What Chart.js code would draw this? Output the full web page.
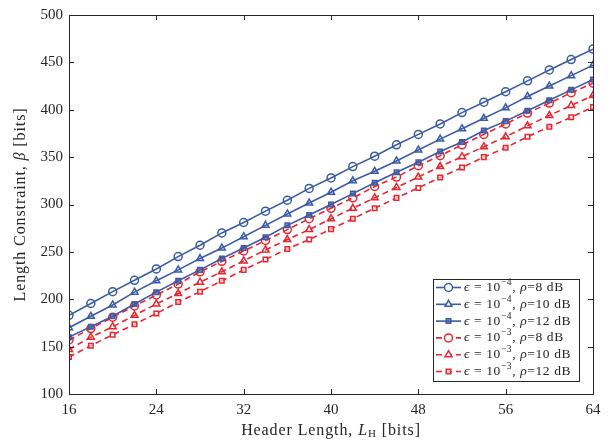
<!DOCTYPE html>
<html>
<head>
<meta charset="utf-8">
<script src="https://cdn.jsdelivr.net/npm/chart.js@4"></script>
<style>
  body { margin: 0; background: #fff; }
  canvas { display: block; }
</style>
</head>
<body>
<canvas id="chart" width="616" height="445"></canvas>
<script>
// header length (bits)
var headerLen = [16, 18, 20, 22, 24, 26, 28, 30, 32, 34, 36, 38, 40, 42, 44, 46, 48, 50, 52, 54, 56, 58, 60, 62, 64];
var xTicks = [16, 24, 32, 40, 48, 56, 64];
var yTicks = [100, 150, 200, 250, 300, 350, 400, 450, 500];

// length constraint (bits)
var e4rho8  = [183, 195.5, 208, 220, 232, 245, 257, 270, 281, 293, 304.5, 317, 328, 340, 351, 363, 374, 385, 397, 408, 419, 430.5, 442, 453, 464];
var e4rho10 = [170, 182, 194, 207.5, 219.5, 231, 243, 254, 266, 278, 290, 301.5, 313, 325, 335, 346, 357.5, 369, 380, 391, 402, 414, 425, 436, 447];
var e4rho12 = [160, 171, 182, 195, 207.5, 219.5, 231, 243, 254, 265.5, 278, 289, 300, 311.5, 323, 334, 344.5, 356, 366, 378, 388, 399, 410, 421, 432];
var e3rho8  = [157, 169, 181, 193, 204.5, 216, 229, 240, 251, 262, 273.5, 285, 296, 307, 319, 329, 341, 351.5, 363, 374, 385, 396.5, 407, 418, 428];
var e3rho10 = [147, 160, 171, 183, 195, 206, 218, 229, 240.5, 252, 263, 273.5, 285, 296, 307, 318, 329, 340, 350.5, 361, 371.5, 383, 394, 404.5, 415];
var e3rho12 = [139, 151, 162.5, 173.5, 185, 197, 208, 219.5, 231, 242, 253, 263, 274, 285, 296, 307, 317.5, 328.5, 339, 350, 360, 371.5, 382, 392, 403];

var BLUE = '#3b5ba6';
var RED = '#e9252f';
var SERIF = '"Liberation Serif", "DejaVu Serif", serif';
var INK = '#262626';

function pts(arr) {
  return headerLen.map(function (v, i) { return { x: v, y: arr[i] }; });
}

function makeSet(arr, color, style, dashed, eps, rho) {
  return {
    data: pts(arr),
    eps: eps,
    rho: rho,
    borderColor: color,
    backgroundColor: style === 'rect' ? (dashed ? 'rgba(255,255,255,0.6)' : 'rgba(59,91,166,0.55)') : 'rgba(255,255,255,0)',
    borderWidth: 1.6,
    borderDash: dashed ? [6, 4] : [],
    pointStyle: style,
    pointRadius: style === 'rect' ? 3.2 : 4,
    pointBorderWidth: 1.5,
    pointBorderColor: color,
    tension: 0
  };
}

var datasets = [
  makeSet(e4rho8, BLUE, 'circle', false, '\u22124', '8'),
  makeSet(e4rho10, BLUE, 'triangle', false, '\u22124', '10'),
  makeSet(e4rho12, BLUE, 'rect', false, '\u22124', '12'),
  makeSet(e3rho8, RED, 'circle', true, '\u22123', '8'),
  makeSet(e3rho10, RED, 'triangle', true, '\u22123', '10'),
  makeSet(e3rho12, RED, 'rect', true, '\u22123', '12')
];

// draws pieces of text one after another, each with its own font and shift
function drawRuns(ctx, runs, x, y) {
  runs.forEach(function (r) {
    ctx.font = r.font;
    ctx.fillText(r.text, x, y + (r.dy || 0));
    x += ctx.measureText(r.text).width;
  });
}
function runsWidth(ctx, runs) {
  var w = 0;
  runs.forEach(function (r) { ctx.font = r.font; w += ctx.measureText(r.text).width; });
  return w;
}

var framePlugin = {
  id: 'frame',
  afterDraw: function (chart) {
    var ctx = chart.ctx;
    var a = chart.chartArea;
    var xs = chart.scales.x, ys = chart.scales.y;
    ctx.save();
    ctx.strokeStyle = INK;
    ctx.lineWidth = 1;
    ctx.setLineDash([]);
    ctx.strokeRect(Math.round(a.left) + 0.5, Math.round(a.top) + 0.5, Math.round(a.width), Math.round(a.height));

    // inward ticks on all four sides
    ctx.beginPath();
    xTicks.forEach(function (v) {
      var px = Math.round(xs.getPixelForValue(v)) + 0.5;
      ctx.moveTo(px, a.bottom); ctx.lineTo(px, a.bottom - 5);
      ctx.moveTo(px, a.top); ctx.lineTo(px, a.top + 5);
    });
    yTicks.forEach(function (v) {
      var py = Math.round(ys.getPixelForValue(v)) + 0.5;
      ctx.moveTo(a.left, py); ctx.lineTo(a.left + 5, py);
      ctx.moveTo(a.right, py); ctx.lineTo(a.right - 5, py);
    });
    ctx.stroke();

    // axis titles
    ctx.fillStyle = INK;
    ctx.textBaseline = 'middle';
    ctx.textAlign = 'left';
    ctx.letterSpacing = '0.9px';
    var f = '16px ' + SERIF, fi = 'italic 16px ' + SERIF, fs = '11px ' + SERIF;
    var xRuns = [
      { text: 'Header Length, ', font: f },
      { text: 'L', font: fi },
      { text: 'H', font: fs, dy: 3 },
      { text: ' [bits]', font: f }
    ];
    var cx = (a.left + a.right) / 2;
    drawRuns(ctx, xRuns, cx - runsWidth(ctx, xRuns) / 2, 431);

    var yRuns = [
      { text: 'Length Constraint, ', font: f },
      { text: '\u03b2', font: fi },
      { text: ' [bits]', font: f }
    ];
    ctx.save();
    ctx.translate(21, (a.top + a.bottom) / 2);
    ctx.rotate(-Math.PI / 2);
    drawRuns(ctx, yRuns, -runsWidth(ctx, yRuns) / 2, 0);
    ctx.restore();

    // legend box
    var lx = 433, ly = 279, lw = 146, lh = 102;
    ctx.fillStyle = '#fff';
    ctx.fillRect(lx, ly, lw, lh);
    ctx.strokeStyle = INK;
    ctx.strokeRect(lx + 0.5, ly + 0.5, lw, lh);

    ctx.letterSpacing = '0.6px';
    var lf = '13.5px ' + SERIF, lfi = 'italic 13.5px ' + SERIF, lfs = '9.5px ' + SERIF;
    chart.data.datasets.forEach(function (ds, i) {
      var ry = 287.5 + i * 16.8;
      ctx.strokeStyle = ds.borderColor;
      ctx.lineWidth = ds.borderWidth;
      ctx.setLineDash(ds.borderDash);
      ctx.beginPath();
      ctx.moveTo(436, ry); ctx.lineTo(461, ry);
      ctx.stroke();
      ctx.setLineDash([]);
      ctx.lineWidth = ds.pointBorderWidth;
      ctx.fillStyle = ds.pointStyle === 'rect' ? ds.backgroundColor : '#fff';
      Chart.helpers.drawPoint(ctx, { pointStyle: ds.pointStyle, radius: ds.pointRadius, borderWidth: ds.pointBorderWidth, rotation: 0 }, 448.5, ry);
      ctx.fillStyle = INK;
      drawRuns(ctx, [
        { text: '\u03f5', font: lfi },
        { text: ' = 10', font: lf },
        { text: ds.eps, font: lfs, dy: -5 },
        { text: ', ', font: lf },
        { text: '\u03c1', font: lfi },
        { text: '=' + ds.rho + ' dB', font: lf }
      ], 464, ry);
    });
    ctx.restore();
  }
};

var lengthChart = new Chart(document.getElementById('chart'), {
  type: 'line',
  data: { datasets: datasets },
  options: {
    responsive: false,
    animation: false,
    layout: { padding: { top: 10, right: 23, left: 0, bottom: 0 } },
    plugins: { legend: { display: false }, tooltip: { enabled: false } },
    scales: {
      x: {
        type: 'linear',
        min: 16, max: 64,
        grid: { display: false, drawTicks: false },
        border: { display: false },
        afterBuildTicks: function (s) { s.ticks = xTicks.map(function (v) { return { value: v }; }); },
        afterFit: function (s) { s.height = 51; },
        ticks: { padding: 7, color: INK, font: { family: SERIF, size: 15 }, maxRotation: 0 }
      },
      y: {
        min: 100, max: 500,
        grid: { display: false, drawTicks: false },
        border: { display: false },
        afterBuildTicks: function (s) { s.ticks = yTicks.map(function (v) { return { value: v }; }); },
        afterFit: function (s) { s.width = 69; },
        ticks: { padding: 6, color: INK, font: { family: SERIF, size: 15 } }
      }
    }
  },
  plugins: [framePlugin]
});
</script>
</body>
</html>
